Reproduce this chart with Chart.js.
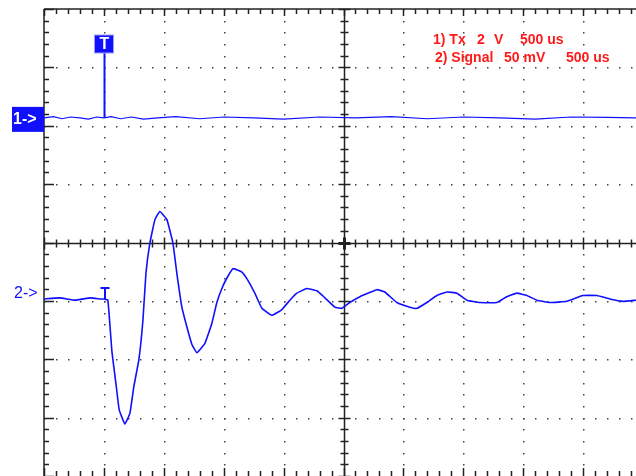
<!DOCTYPE html>
<html>
<head>
<meta charset="utf-8">
<script src="https://cdn.jsdelivr.net/npm/chart.js@4"></script>
<style>
  html, body { margin: 0; padding: 0; background: #fff; overflow: hidden; }
  #wrap { width: 636px; height: 476px; }
</style>
</head>
<body>
<div id="wrap"><canvas id="scope"></canvas></div>
<script>
// Time in microseconds (trigger at 0), 500 us / division
const ch1Time = [-500, -420, -350, -280, -200, -130, -60, 0, 60, 140, 230, 330, 450, 600, 800, 1000, 1250, 1500, 1800, 2100, 2400, 2700, 3000, 3300, 3600, 3900, 4200, 4442];
// Channel 1 (Tx), volts, 2 V / division
const ch1Volts = [0, 0.04, -0.03, 0.03, 0, -0.04, 0.03, 0, 0.04, -0.03, 0.03, -0.04, 0, 0.04, -0.03, 0.03, 0, -0.04, 0.03, 0, 0.04, -0.03, 0.03, 0, -0.04, 0.03, 0.02, 0];

// Channel 2 (Signal), millivolts, 50 mV / division
const ch2Time = [-500, -370, -240, -110, -25, 0, 33, 67, 100, 128, 175, 217, 250, 292, 326, 351, 384, 426, 467,
  526, 576, 609, 651, 693, 735, 776, 843, 901, 943, 985, 1027, 1077, 1152, 1202, 1260, 1319, 1402, 1486, 1553,
  1611, 1694, 1778, 1845, 1928, 1987, 2053, 2137, 2279, 2345, 2446, 2554, 2613, 2696, 2780, 2863, 2947, 3030,
  3138, 3280, 3364, 3447, 3531, 3614, 3723, 3865, 3998, 4115, 4224, 4332, 4442];
const ch2Millivolts = [0, 1, -1, 1, 0, 0, -1, -45, -72, -95, -107, -98, -75, -52, -18, 22, 48, 68, 75,
  68, 48, 22, -7, -24, -39, -46, -38, -21, -3, 9, 18, 26, 23, 16, 5, -8, -14, -9, -1,
  5, 9, 7, 1, -7, -8, -3, 2, 8, 6, -3, -7, -8, -3, 3, 6, 5, -1,
  -3, -3, 2, 5, 3, -1, -3, -2, 3, 3, 0, -2, -1];

const legendLines = [
  [["1) Tx", 433], ["2", 477], ["V", 494], ["500 us", 520]],
  [["2) Signal", 435], ["50 mV", 504], ["500 us", 566]]
];

const BLUE = "#1010ff";
const GRID = "#222";

const scopeGrid = {
  id: "scopeGrid",
  beforeDatasetsDraw(chart) {
    const { ctx, chartArea: a } = chart;
    const divX = 59.9;
    const divY = (a.bottom - a.top) / 8;
    ctx.save();

    // dotted division lines
    ctx.fillStyle = "#444";
    for (let i = 1; i < 10; i++) {
      const x = Math.round(a.left + i * divX);
      if (i === 5) continue;
      for (let k = 0; k <= 40; k++) ctx.fillRect(x, Math.round(a.top + k * divY / 5), 1.5, 1.5);
    }
    for (let j = 1; j < 8; j++) {
      const y = Math.round(a.top + j * divY);
      if (j === 4) continue;
      for (let k = 0; k <= 50; k++) ctx.fillRect(Math.round(a.left + k * divX / 5), y, 1.5, 1.5);
    }

    ctx.strokeStyle = GRID;
    ctx.lineWidth = 1.5;
    const line = (x1, y1, x2, y2) => { ctx.beginPath(); ctx.moveTo(x1, y1); ctx.lineTo(x2, y2); ctx.stroke(); };

    const cx = Math.round(a.left + 5 * divX) + 0.5;
    const cy = Math.round(a.top + 4 * divY) + 0.5;

    // borders and center axes
    line(a.left, a.top, a.left, a.bottom);
    line(a.left, a.top, a.right, a.top);
    line(cx, a.top, cx, a.bottom);
    line(a.left, cy, a.right, cy);

    // ticks along x
    for (let k = 0; k <= 50; k++) {
      const x = Math.round(a.left + k * divX / 5) + 0.5;
      if (x > a.right) break;
      const major = k % 5 === 0;
      line(x, a.top, x, a.top + (major ? 7 : 5));
      line(x, a.bottom, x, a.bottom - (major ? 8 : 5));
      line(x, cy - (major ? 6 : 4), x, cy + (major ? 6 : 4));
    }
    // ticks along y
    for (let k = 0; k <= 40; k++) {
      const y = Math.round(a.top + k * divY / 5) + 0.5;
      const major = k % 5 === 0;
      line(a.left, y, a.left + (major ? 10 : 5), y);
      line(cx - (major ? 6 : 4), y, cx + (major ? 6 : 4), y);
    }
    ctx.lineWidth = 3;
    line(cx - 6, cy, cx + 6, cy);
    line(cx, cy - 6, cx, cy + 6);
    ctx.restore();
  },
  afterDatasetsDraw(chart) {
    const { ctx, scales } = chart;
    const tx = Math.round(scales.x.getPixelForValue(0)) + 0.5;
    const y1 = scales.y1.getPixelForValue(0);
    const y2 = scales.y2.getPixelForValue(0);
    ctx.save();

    // trigger marker for channel 1
    ctx.strokeStyle = BLUE;
    ctx.lineWidth = 2;
    ctx.beginPath(); ctx.moveTo(tx, 53); ctx.lineTo(tx, y1); ctx.stroke();
    ctx.fillStyle = BLUE;
    ctx.fillRect(tx - 10, 35, 19, 18);
    ctx.strokeStyle = "#9a9aff";
    ctx.lineWidth = 1;
    ctx.strokeRect(tx - 10, 35, 19, 18);
    ctx.fillStyle = "#fff";
    ctx.font = "bold 16px 'Liberation Sans', Arial, sans-serif";
    ctx.textAlign = "center";
    ctx.textBaseline = "middle";
    ctx.fillText("T", tx, 45);

    // trigger marker for channel 2
    ctx.strokeStyle = BLUE;
    ctx.lineWidth = 2;
    ctx.beginPath();
    ctx.moveTo(tx - 4, y2 - 11); ctx.lineTo(tx + 5, y2 - 11);
    ctx.moveTo(tx + 0.5, y2 - 11); ctx.lineTo(tx + 0.5, y2);
    ctx.stroke();

    // channel labels
    ctx.fillStyle = BLUE;
    ctx.fillRect(12, y1 - 11, 32, 25);
    ctx.fillStyle = "#fff";
    ctx.font = "bold 16px 'Liberation Sans', Arial, sans-serif";
    ctx.textAlign = "left";
    ctx.fillText("1->", 13, y1 + 2);
    ctx.fillStyle = BLUE;
    ctx.font = "16px 'Liberation Sans', Arial, sans-serif";
    ctx.fillText("2->", 14, y2 - 5);

    // legend text
    ctx.fillStyle = "#ff1a1a";
    ctx.font = "bold 14px 'Liberation Sans', Arial, sans-serif";
    ctx.textBaseline = "alphabetic";
    legendLines.forEach((parts, i) => {
      parts.forEach(([t, x]) => ctx.fillText(t, x, 44 + i * 18));
    });
    ctx.restore();
  }
};

new Chart(document.getElementById("scope"), {
  type: "line",
  data: {
    datasets: [
      {
        label: "Tx",
        data: ch1Time.map((t, i) => ({ x: t, y: ch1Volts[i] })),
        yAxisID: "y1",
        borderColor: BLUE,
        borderWidth: 1.2,
        pointRadius: 0,
        tension: 0,
      },
      {
        label: "Signal",
        data: ch2Time.map((t, i) => ({ x: t, y: ch2Millivolts[i] })),
        yAxisID: "y2",
        borderColor: BLUE,
        borderWidth: 1.6,
        pointRadius: 0,
        tension: 0.1,
      },
    ],
  },
  options: {
    responsive: true,
    maintainAspectRatio: false,
    animation: false,
    layout: { padding: { left: 44, top: 9, right: 0, bottom: 0 } },
    plugins: { legend: { display: false }, tooltip: { enabled: false } },
    scales: {
      x: { type: "linear", min: -500, max: 4442, display: false },
      y1: { type: "linear", min: -12.27, max: 3.73, display: false },
      y2: { type: "linear", min: -151.6, max: 248.4, display: false },
    },
  },
  plugins: [scopeGrid],
});
</script>
</body>
</html>
